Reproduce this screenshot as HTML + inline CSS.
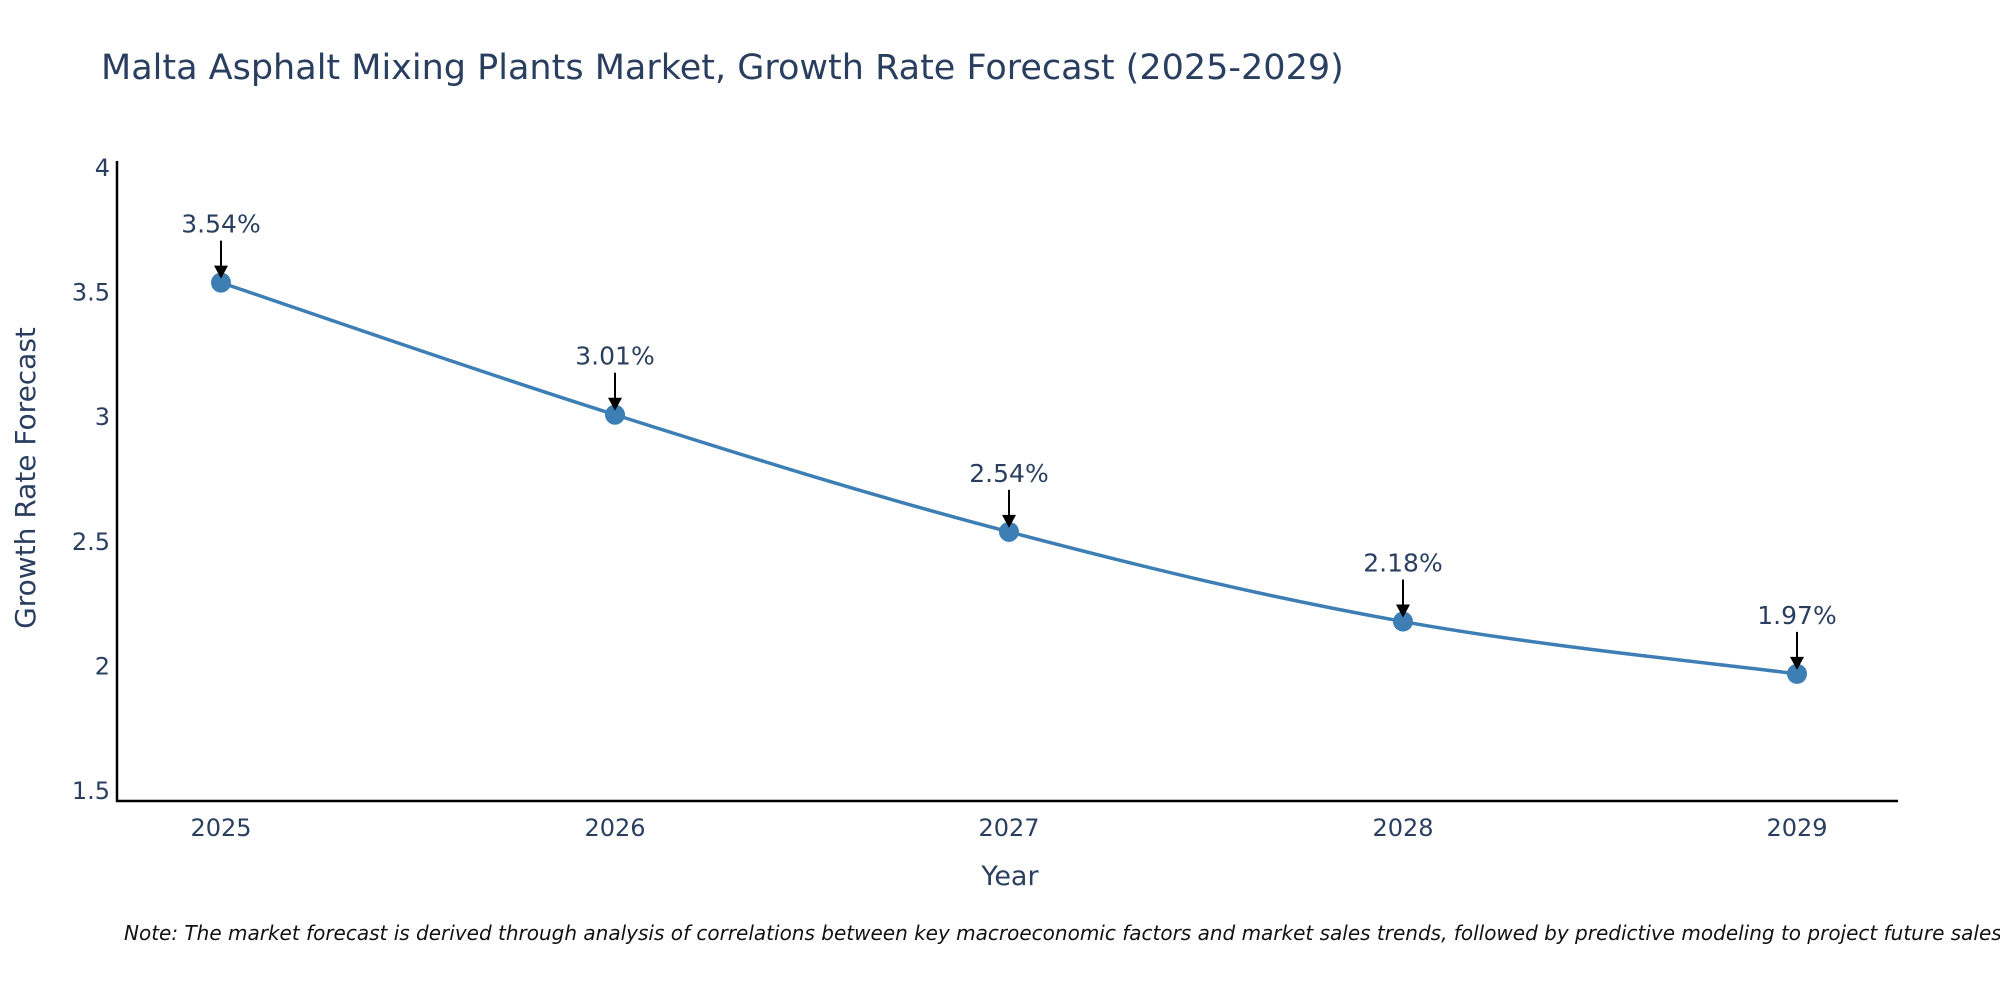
<!DOCTYPE html>
<html><head><meta charset="utf-8"><style>
html,body{margin:0;padding:0;background:#fff;}
svg{display:block;font-family:"DejaVu Sans","Liberation Sans",sans-serif;}
</style></head><body>
<svg id="chart" width="2000" height="1000" viewBox="0 0 2000 1000">
<text x="101" y="79" font-size="35" fill="#2a3f5f">Malta Asphalt Mixing Plants Market, Growth Rate Forecast (2025-2029)</text>
<text transform="translate(35,478) rotate(-90)" text-anchor="middle" font-size="28" fill="#2a3f5f">Growth Rate Forecast</text>
<text x="1010" y="885" text-anchor="middle" font-size="27" fill="#2a3f5f">Year</text>
<text x="124" y="940" font-size="20" font-style="italic" fill="#111">Note: The market forecast is derived through analysis of correlations between key macroeconomic factors and market sales trends, followed by predictive modeling to project future sales.</text>
<line x1="117" y1="161" x2="117" y2="802" stroke="#000" stroke-width="2.5"/>
<line x1="116" y1="801" x2="1898" y2="801" stroke="#000" stroke-width="2.5"/>
<g id="yticks"></g><g id="xticks"></g><g id="series"></g><g id="annots"></g>
</svg>
<script>
const years = [2025, 2026, 2027, 2028, 2029];
const values = [3.54, 3.01, 2.54, 2.18, 1.97];
const valueLabels = ["3.54%", "3.01%", "2.54%", "2.18%", "1.97%"];
const yTicks = [1.5, 2, 2.5, 3, 3.5, 4];
const yTickLabels = ["1.5", "2", "2.5", "3", "3.5", "4"];

const NS = "http://www.w3.org/2000/svg";
function X(yr){ return 221 + (yr - 2025) * 394; }
function Y(v){ return 791 - (v - 1.5) * 249.2; }
function mk(tag, attrs, parent, text){
  const e = document.createElementNS(NS, tag);
  for (const k in attrs) e.setAttribute(k, attrs[k]);
  if (text !== undefined) e.textContent = text;
  document.getElementById(parent).appendChild(e);
  return e;
}
yTicks.forEach((t, i) => {
  const e = mk("text", {x: 110, y: Y(t) + 8, "text-anchor": "end", "font-size": 24, fill: "#2a3f5f"}, "yticks", yTickLabels[i]);
  
  
});
years.forEach(yr => {
  const e = mk("text", {x: X(yr), y: 836, "text-anchor": "middle", "font-size": 24, fill: "#2a3f5f"}, "xticks", String(yr));
  
  
});
const pts = years.map((yr, i) => [X(yr), Y(values[i])]);
let d = "M" + pts[0][0] + "," + pts[0][1];
const s = 0.18;
for (let i = 0; i < pts.length - 1; i++) {
  const p0 = pts[Math.max(0, i - 1)], p1 = pts[i], p2 = pts[i + 1], p3 = pts[Math.min(pts.length - 1, i + 2)];
  const c1 = [p1[0] + (p2[0] - p0[0]) * s, p1[1] + (p2[1] - p0[1]) * s];
  const c2 = [p2[0] - (p3[0] - p1[0]) * s, p2[1] - (p3[1] - p1[1]) * s];
  d += " C" + c1[0] + "," + c1[1] + " " + c2[0] + "," + c2[1] + " " + p2[0] + "," + p2[1];
}
const line = mk("path", {d: d, fill: "none", stroke: "#3d7fb5", "stroke-width": 3.5}, "series");


pts.forEach((p, i) => {
  const c = mk("circle", {cx: p[0], cy: p[1], r: 10, fill: "#3d7fb5"}, "series");
  
  
  const a = mk("line", {x1: p[0], y1: p[1] - 42, x2: p[0], y2: p[1] - 14, stroke: "#000", "stroke-width": 2}, "annots");
  
  
  const h = mk("path", {d: "M" + (p[0] - 7) + "," + (p[1] - 17) + " L" + (p[0] + 7) + "," + (p[1] - 17) + " L" + p[0] + "," + (p[1] - 4) + " z", fill: "#000"}, "annots");
  
  
  const t = mk("text", {x: p[0], y: p[1] - 50, "text-anchor": "middle", "font-size": 25, fill: "#2a3f5f"}, "annots", valueLabels[i]);
  
  
});
</script>
</body></html>
